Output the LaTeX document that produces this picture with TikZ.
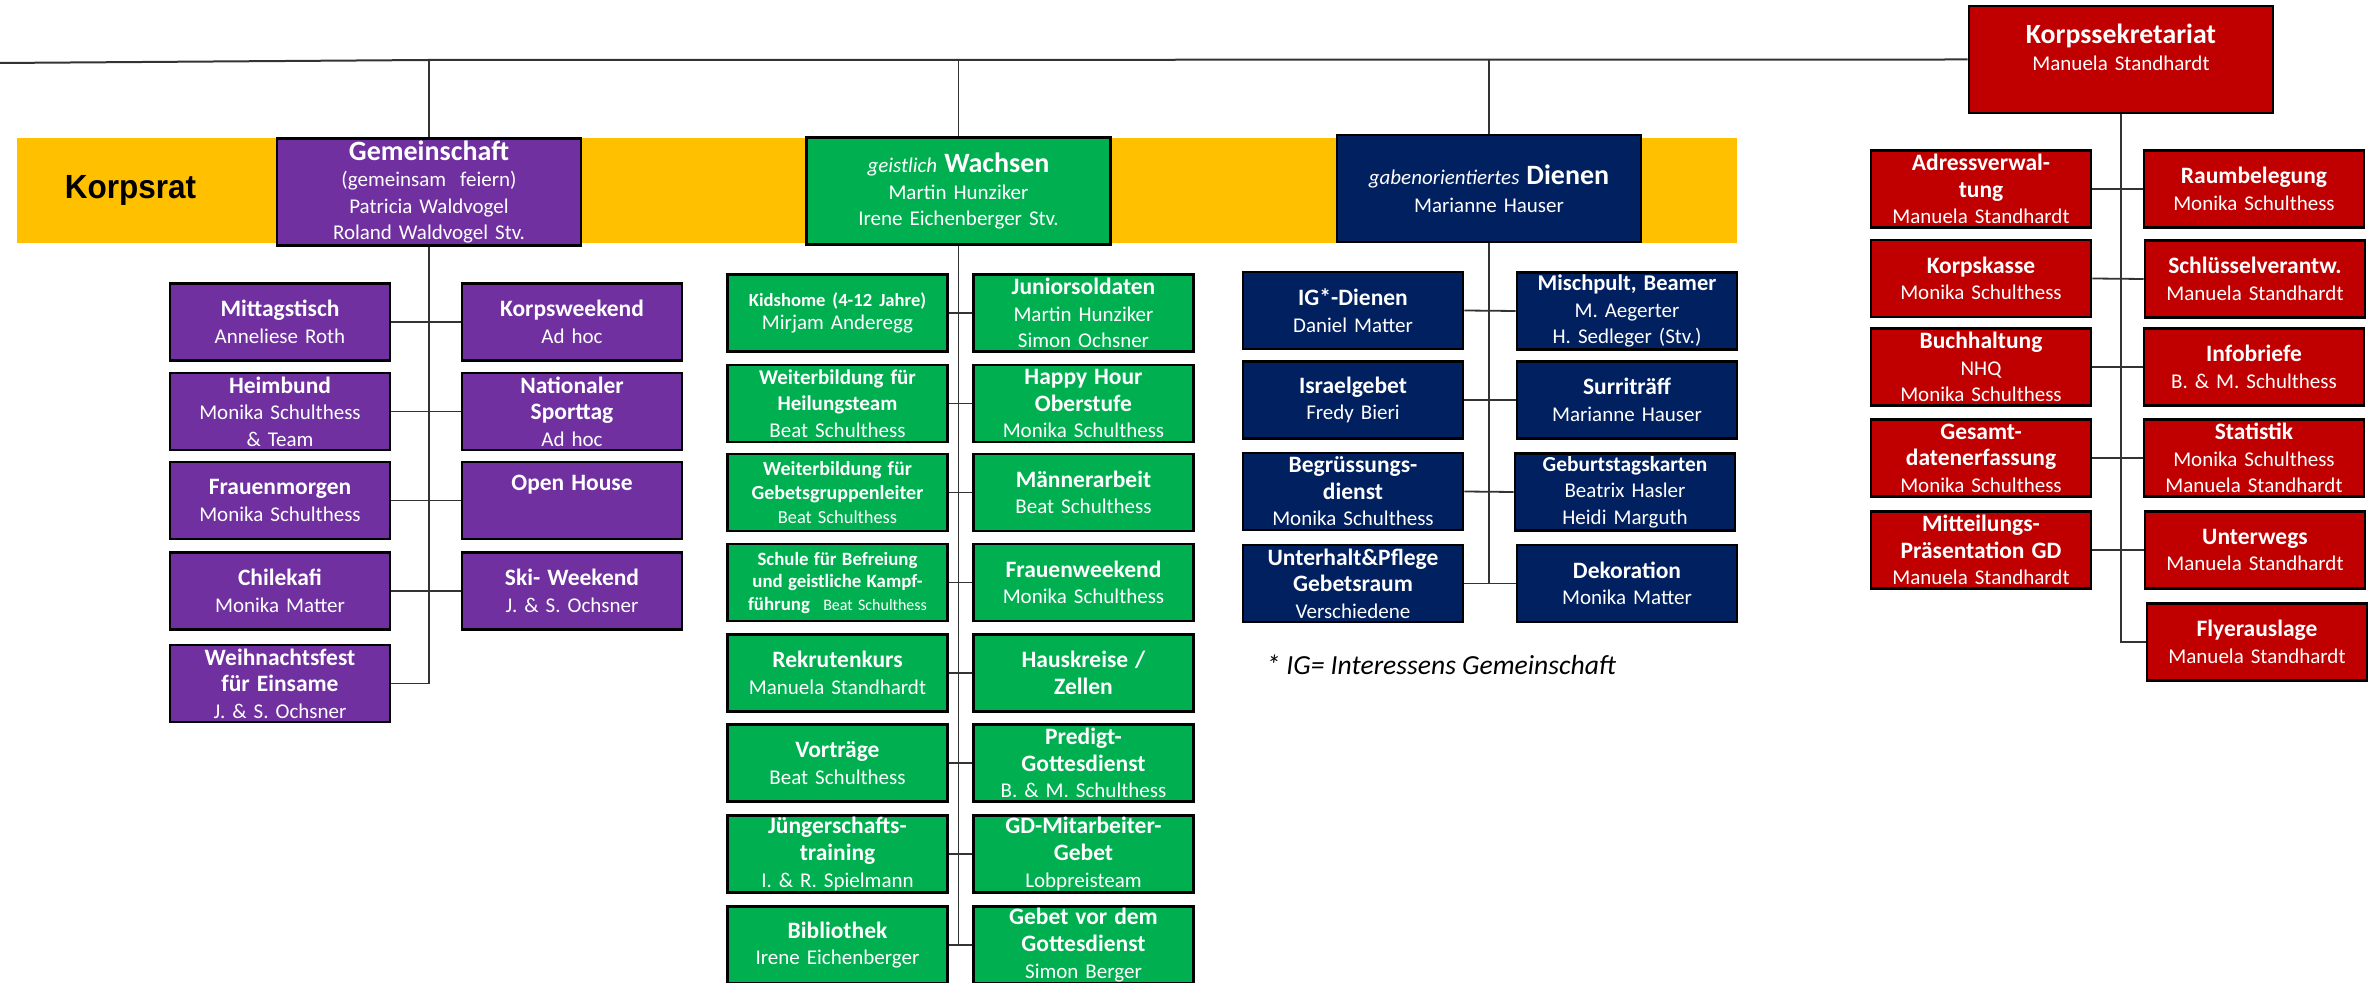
\documentclass[tikz,border=0pt]{standalone}
\usepackage{fontspec}
\usepackage{graphicx}
\setmainfont{Carlito}
\newfontfamily\arialfont{Liberation Sans}
\definecolor{cpurple}{HTML}{7030A0}
\definecolor{cgreen}{HTML}{00B050}
\definecolor{cblue}{HTML}{002060}
\definecolor{cred}{HTML}{C00000}
\definecolor{cyellow}{HTML}{FFC000}
\newcommand{\ttl}[1]{{\fontsize{11.75}{13.3}\selectfont\bfseries #1}}
\newcommand{\htl}[1]{{\fontsize{14}{13.3}\selectfont\bfseries #1}}
\newcommand{\sbt}[1]{{\fontsize{9.4}{11.25}\selectfont\bfseries #1}}
\tikzset{
  cbox/.style={draw=black, line width=1.3pt, minimum width=110pt, minimum height=38.5pt,
    inner sep=0pt, text width=108pt, align=center, text=white,
    font=\fontsize{10.5}{13.3}\selectfont},
  pbox/.style={cbox, fill=cpurple},
  gbox/.style={cbox, fill=cgreen},
  bbox/.style={cbox, fill=cblue},
  rbox/.style={cbox, fill=cred},
  hdr/.style={minimum width=152pt, minimum height=53.5pt, text width=150pt},
  conn/.style={draw=black!80, line width=0.9pt},
}
\begin{document}
\begin{tikzpicture}[x=0.5pt,y=-0.5pt]
\useasboundingbox (0,0) rectangle (2379,983);
% yellow band
\fill[cyellow] (17,138) rectangle (1737,243);
\node[inner sep=0pt, anchor=base, font=\arialfont\bfseries\fontsize{16.75}{20}\selectfont] (kr) at (130.5,199) {\scalebox{0.94}[1]{Korpsrat}};

% headers
\node[pbox,hdr] (gem) at (429,192) {\htl{Gemeinschaft}\\(gemeinsam\ \ feiern)\\Patricia Waldvogel\\Roland Waldvogel Stv.};
\node[gbox,hdr] (wach) at (958.5,191) {\textit{geistlich} \htl{Wachsen}\\Martin Hunziker\\Irene Eichenberger Stv.};
\node[bbox,hdr,font=\fontsize{10.5}{14}\selectfont] (dien) at (1489,188.5) {\textit{gabenorientiertes} \htl{Dienen}\\Marianne Hauser};
\node[rbox,hdr,font=\fontsize{10.5}{13.5}\selectfont] (ks) at (2121,59.5) {{\fontsize{13.9}{13.5}\selectfont\bfseries Korpssekretariat}\\Manuela Standhardt\\[-5pt]\strut};

% top line
\coordinate (tl) at (0,63);
\coordinate (j1) at (429,60);
\draw[conn, line width=1pt] (tl) -- (j1) -- (ks.west);
\draw[conn] (j1) -- (gem.north);
\draw[conn] (wach.north |- j1) -- (wach.north);
\draw[conn] (dien.north |- j1) -- (dien.north);

% purple
\node[pbox] (p1) at (280,322) {\ttl{Mittagstisch}\\Anneliese Roth};
\node[pbox] (p2) at (280,411.5) {\ttl{Heimbund}\\Monika Schulthess\\\& Team};
\node[pbox] (p3) at (280,500.5) {\ttl{Frauenmorgen}\\Monika Schulthess};
\node[pbox] (p4) at (280,591) {\ttl{Chilekafi}\\Monika Matter};
\node[pbox] (p5) at (280,683.5) {\ttl{Weihnachtsfest}\\\ttl{für Einsame}\\J. \& S. Ochsner};
\node[pbox] (q1) at (572,322) {\ttl{Korpsweekend}\\Ad hoc};
\node[pbox] (q2) at (572,411.5) {\ttl{Nationaler}\\\ttl{Sporttag}\\Ad hoc};
\node[pbox] (q3) at (572,500.5) {\ttl{Open House}\\\strut};
\node[pbox] (q4) at (572,591) {\ttl{Ski- Weekend}\\J. \& S. Ochsner};
\draw[conn] (gem.south) |- (p5.east);
\foreach \i in {1,2,3,4}{\draw[conn] (p\i.east) -- (q\i.west);}

% green
\node[gbox,font=\fontsize{10.5}{11.8}\selectfont] (g1) at (837.5,313) {{\fontsize{9.3}{11.8}\selectfont\bfseries Kidshome (4-12 Jahre)}\\Mirjam Anderegg};
\node[gbox] (g2) at (837.5,403.5) {\textbf{Weiterbildung für}\\\textbf{Heilungsteam}\\Beat Schulthess};
\node[gbox,font=\fontsize{9.2}{12.2}\selectfont] (g3) at (837.5,492.5) {{\fontsize{10}{12.2}\selectfont\bfseries Weiterbildung für}\\{\fontsize{10}{12.2}\selectfont\bfseries Gebetsgruppenleiter}\\Beat Schulthess};
\node[gbox,font=\fontsize{8}{11.25}\selectfont] (g4) at (837.5,582.5) {\sbt{Schule für Befreiung}\\\sbt{und geistliche Kampf-}\\\sbt{führung}\hspace{4pt} Beat Schulthess};
\node[gbox] (g5) at (837.5,673) {\ttl{Rekrutenkurs}\\Manuela Standhardt};
\node[gbox] (g6) at (837.5,763) {\ttl{Vorträge}\\Beat Schulthess};
\node[gbox] (g7) at (837.5,854) {\ttl{Jüngerschafts-}\\\ttl{training}\\I. \& R. Spielmann};
\node[gbox] (g8) at (837.5,945) {\ttl{Bibliothek}\\Irene Eichenberger};
\node[gbox] (h1) at (1083.5,313) {\ttl{Juniorsoldaten}\\Martin Hunziker\\Simon Ochsner};
\node[gbox] (h2) at (1083.5,403.5) {\ttl{Happy Hour}\\\ttl{Oberstufe}\\Monika Schulthess};
\node[gbox] (h3) at (1083.5,492.5) {\ttl{Männerarbeit}\\Beat Schulthess};
\node[gbox] (h4) at (1083.5,582.5) {\ttl{Frauenweekend}\\Monika Schulthess};
\node[gbox] (h5) at (1083.5,673) {\ttl{Hauskreise /}\\\ttl{Zellen}};
\node[gbox] (h6) at (1083.5,763) {\ttl{Predigt-}\\\ttl{Gottesdienst}\\B. \& M. Schulthess};
\node[gbox] (h7) at (1083.5,854) {\ttl{GD-Mitarbeiter-}\\\ttl{Gebet}\\Lobpreisteam};
\node[gbox] (h8) at (1083.5,945) {\ttl{Gebet vor dem}\\\ttl{Gottesdienst}\\Simon Berger};
\draw[conn] (wach.south) -- (wach.south |- h8.west);
\foreach \i in {1,...,8}{\draw[conn] (g\i.east) -- (h\i.west);}

% blue
\node[bbox] (b1) at (1353,310.5) {\ttl{IG*-Dienen}\\Daniel Matter};
\node[bbox] (b2) at (1353,400) {\ttl{Israelgebet}\\Fredy Bieri};
\node[bbox] (b3) at (1353,491.5) {\ttl{Begrüssungs-}\\\ttl{dienst}\\Monika Schulthess};
\node[bbox] (b4) at (1353,583.5) {\ttl{Unterhalt\&Pflege}\\\ttl{Gebetsraum}\\Verschiedene};
\node[bbox] (c1) at (1627,311) {{\fontsize{11.25}{13.3}\selectfont\bfseries Mischpult, Beamer}\\M. Aegerter\\H. Sedleger (Stv.)};
\node[bbox] (c2) at (1627,400) {\ttl{Surriträff}\\Marianne Hauser};
\node[bbox] (c3) at (1625,492) {{\fontsize{10.7}{13.3}\selectfont\bfseries Geburtstagskarten}\\Beatrix Hasler\\Heidi Marguth};
\node[bbox] (c4) at (1627,583.5) {\ttl{Dekoration}\\Monika Matter};
\draw[conn] (dien.south) -- (dien.south |- c4.west);
\foreach \i in {1,2,3,4}{\draw[conn] (b\i.east) -- (c\i.west);}
\node[anchor=base west, inner sep=0pt, font=\itshape\fontsize{13.8}{16}\selectfont] (fn) at (1266,675) {* IG= Interessens Gemeinschaft};

% red
\node[rbox] (r1) at (1981,189) {\ttl{Adressverwal-}\\\ttl{tung}\\Manuela Standhardt};
\node[rbox] (r2) at (1981,278.5) {\ttl{Korpskasse}\\Monika Schulthess};
\node[rbox] (r3) at (1981,367) {\ttl{Buchhaltung}\\NHQ\\Monika Schulthess};
\node[rbox] (r4) at (1981,458) {\ttl{Gesamt-}\\\ttl{datenerfassung}\\Monika Schulthess};
\node[rbox] (r5) at (1981,550) {\ttl{Mitteilungs-}\\\ttl{Präsentation GD}\\Manuela Standhardt};
\node[rbox] (s1) at (2254,189) {\ttl{Raumbelegung}\\Monika Schulthess};
\node[rbox] (s2) at (2255,279) {\ttl{Schlüsselverantw.}\\Manuela Standhardt};
\node[rbox] (s3) at (2254,367) {\ttl{Infobriefe}\\B. \& M. Schulthess};
\node[rbox] (s4) at (2254,458) {\ttl{Statistik}\\Monika Schulthess\\Manuela Standhardt};
\node[rbox] (s5) at (2255,550) {\ttl{Unterwegs}\\Manuela Standhardt};
\node[rbox] (s6) at (2257,642) {\ttl{Flyerauslage}\\Manuela Standhardt};
\draw[conn] (ks.south) |- (s6.west);
\foreach \i in {1,...,5}{\draw[conn] (r\i.east) -- (s\i.west);}
\end{tikzpicture}
\end{document}
